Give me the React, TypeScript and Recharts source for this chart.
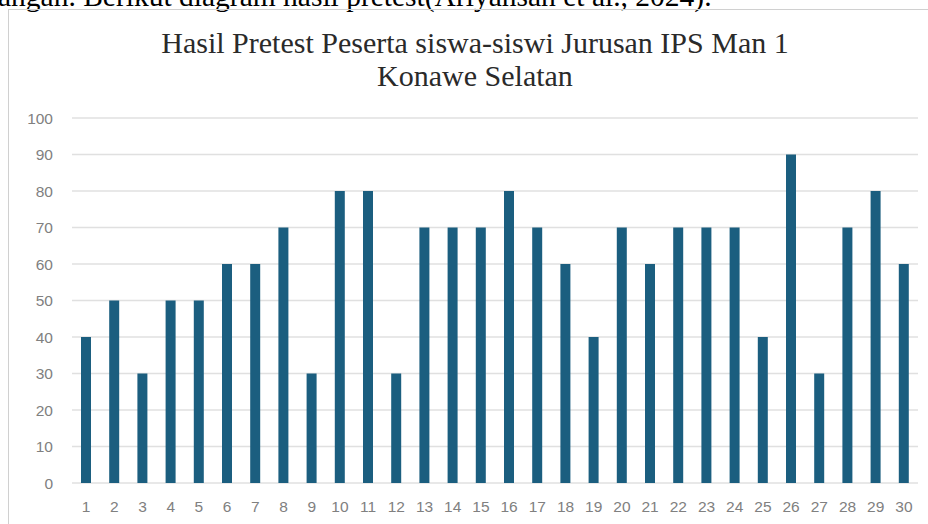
import { BarChart, Bar, XAxis, YAxis, CartesianGrid } from "recharts";

const students = [
  "1", "2", "3", "4", "5", "6", "7", "8", "9", "10",
  "11", "12", "13", "14", "15", "16", "17", "18", "19", "20",
  "21", "22", "23", "24", "25", "26", "27", "28", "29", "30",
];

const scores = [
  40, 50, 30, 50, 50, 60, 60, 70, 30, 80,
  80, 30, 70, 70, 70, 80, 70, 60, 40, 70,
  60, 70, 70, 70, 40, 90, 30, 70, 80, 60,
];

const yTicks = [0, 10, 20, 30, 40, 50, 60, 70, 80, 90, 100];

const data = students.map((name, i) => ({ name, score: scores[i] }));

const BAR_COLOR = "#1b5e7f";
const TICK_STYLE = { fontFamily: "'Liberation Sans', Arial, sans-serif", fontSize: 15.5, fill: "#808080" };

const App = () => {
  return (
    <div
      style={{
        position: "absolute",
        left: 0,
        top: 0,
        width: 928,
        height: 524,
        overflow: "hidden",
        background: "#fff",
      }}
    >
      {/* kalimat paragraf yang terpotong di atas */}
      <div
        style={{
          position: "absolute",
          left: -2,
          top: -18,
          fontFamily: "'Liberation Serif', serif",
          fontSize: 29.5,
          lineHeight: "29.5px",
          whiteSpace: "nowrap",
          color: "#000",
        }}
      >
        angan. Berikut diagram hasil pretest(Ariyansah et al., 2024).
      </div>

      {/* bingkai grafik */}
      <div
        style={{
          position: "absolute",
          left: 8,
          top: 9,
          width: 940,
          height: 540,
          borderLeft: "1.5px solid #d0d0d0",
          borderTop: "1.5px solid #d0d0d0",
        }}
      />

      <div
        style={{
          position: "absolute",
          left: 75,
          top: 26,
          width: 800,
          textAlign: "center",
          fontFamily: "'Liberation Serif', serif",
          fontSize: 30,
          lineHeight: "33px",
          color: "#2a2a2a",
        }}
      >
        Hasil Pretest Peserta siswa-siswi Jurusan IPS Man 1
        <br />
        Konawe Selatan
      </div>

      <div style={{ position: "absolute", left: 0, top: 0 }}>
        <BarChart
          width={928}
          height={524}
          data={data}
          margin={{ top: 118, right: 10, bottom: 0, left: 0 }}
        >
          <CartesianGrid vertical={false} stroke="#e0e0e0" strokeWidth={1.5} />
          <XAxis
            dataKey="name"
            axisLine={false}
            tickLine={false}
            tickSize={0}
            tickMargin={18}
            height={41}
            interval={0}
            tick={TICK_STYLE}
          />
          <YAxis
            domain={[0, 100]}
            ticks={yTicks}
            axisLine={false}
            tickLine={false}
            tickSize={0}
            tickMargin={19}
            width={72}
            tick={TICK_STYLE}
          />
          <Bar dataKey="score" fill={BAR_COLOR} barSize={10} isAnimationActive={false} />
        </BarChart>
      </div>
    </div>
  );
};

export default App;
